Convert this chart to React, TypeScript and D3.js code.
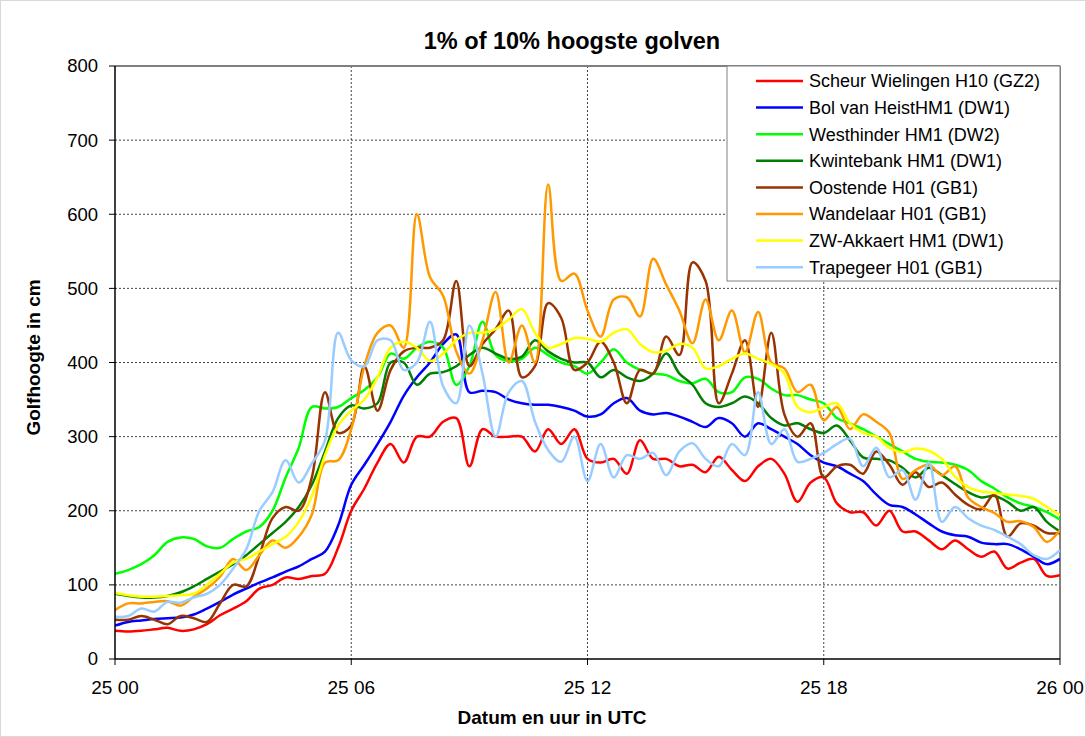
import * as d3 from 'd3';

// sample times in hours after 25 00, every 20 minutes
const hours: number[] = d3.range(0, 73).map((i) => i / 3);

const xTicks = [0, 6, 12, 18, 24];
const xTickLabels = ['25 00', '25 06', '25 12', '25 18', '26 00'];
const yTicks = [0, 100, 200, 300, 400, 500, 600, 700, 800];

const scheur = [38, 37, 38, 40, 42, 38, 40, 47, 59, 68, 78, 95, 100, 110, 108, 112, 115, 150, 200, 230, 265, 290, 265, 300, 300, 320, 325, 260, 310, 300, 300, 300, 280, 310, 290, 310, 270, 265, 270, 250, 295, 270, 270, 260, 262, 252, 273, 255, 240, 260, 270, 250, 212, 238, 245, 210, 198, 198, 180, 200, 172, 172, 160, 148, 160, 148, 138, 145, 122, 130, 135, 112, 113];
const bolVanHeist = [45, 50, 52, 54, 55, 56, 60, 68, 77, 87, 95, 103, 110, 118, 125, 135, 145, 180, 235, 262, 290, 320, 355, 380, 400, 425, 438, 360, 362, 360, 350, 345, 343, 343, 340, 335, 327, 330, 345, 352, 335, 330, 332, 327, 320, 313, 325, 318, 300, 318, 310, 300, 290, 275, 265, 260, 250, 240, 222, 208, 205, 195, 183, 172, 167, 165, 157, 155, 155, 148, 138, 128, 135];
const westhinder = [115, 120, 128, 140, 158, 164, 162, 152, 150, 162, 172, 178, 200, 245, 285, 340, 338, 340, 352, 363, 380, 412, 405, 420, 428, 420, 370, 395, 455, 410, 402, 405, 420, 410, 400, 395, 385, 400, 418, 400, 390, 385, 383, 375, 372, 378, 360, 360, 380, 378, 365, 356, 356, 350, 345, 325, 318, 310, 300, 290, 280, 270, 266, 265, 262, 255, 240, 230, 218, 210, 205, 198, 188];
const kwintebank = [88, 85, 83, 83, 85, 90, 98, 108, 118, 128, 140, 155, 170, 185, 205, 235, 280, 325, 342, 338, 345, 400, 400, 370, 385, 387, 395, 410, 420, 412, 405, 408, 430, 415, 405, 400, 400, 380, 390, 380, 375, 385, 412, 385, 370, 345, 340, 345, 354, 345, 325, 315, 318, 310, 305, 315, 295, 272, 270, 268, 258, 245, 258, 248, 236, 225, 218, 220, 212, 200, 205, 185, 172];
const oostende = [53, 53, 58, 53, 47, 58, 55, 50, 75, 100, 98, 140, 190, 205, 200, 245, 360, 305, 315, 395, 335, 390, 415, 420, 420, 430, 510, 395, 425, 445, 470, 380, 395, 480, 460, 390, 400, 428, 400, 345, 390, 385, 435, 410, 535, 510, 345, 385, 430, 340, 440, 330, 300, 318, 245, 260, 262, 250, 280, 262, 235, 252, 232, 238, 222, 208, 202, 222, 165, 183, 180, 170, 170];
const wandelaar = [66, 75, 75, 77, 78, 72, 84, 95, 111, 135, 120, 140, 160, 150, 165, 195, 265, 268, 310, 395, 440, 450, 420, 600, 515, 490, 415, 385, 430, 495, 400, 450, 400, 640, 510, 520, 470, 435, 485, 488, 462, 540, 505, 470, 426, 485, 430, 470, 414, 468, 400, 392, 360, 370, 322, 340, 310, 330, 320, 305, 243, 255, 262, 248, 260, 218, 205, 197, 185, 186, 178, 158, 174];
const zwAkkaert = [89, 86, 84, 84, 85, 86, 88, 100, 115, 130, 135, 145, 155, 165, 185, 220, 275, 315, 335, 350, 380, 420, 428, 420, 402, 412, 430, 440, 440, 445, 458, 472, 440, 420, 425, 433, 432, 428, 440, 445, 425, 414, 416, 425, 420, 392, 395, 405, 412, 405, 398, 385, 340, 333, 340, 345, 318, 305, 300, 285, 279, 284, 281, 270, 246, 232, 226, 224, 222, 220, 216, 205, 194];
const trapegeer = [57, 58, 68, 64, 77, 76, 83, 88, 100, 122, 148, 200, 225, 268, 238, 264, 295, 440, 403, 395, 430, 430, 390, 400, 455, 368, 345, 450, 385, 300, 360, 375, 320, 282, 266, 300, 240, 290, 245, 275, 270, 278, 248, 280, 291, 270, 260, 290, 275, 360, 290, 310, 266, 270, 278, 290, 297, 260, 285, 245, 255, 215, 265, 185, 205, 190, 180, 174, 165, 155, 140, 135, 147];

const seriesNames = [
  'Scheur Wielingen H10 (GZ2)',
  'Bol van HeistHM1 (DW1)',
  'Westhinder HM1 (DW2)',
  'Kwintebank HM1 (DW1)',
  'Oostende H01 (GB1)',
  'Wandelaar H01 (GB1)',
  'ZW-Akkaert HM1 (DW1)',
  'Trapegeer H01 (GB1)',
];
const seriesValues = [scheur, bolVanHeist, westhinder, kwintebank, oostende, wandelaar, zwAkkaert, trapegeer];
const seriesColors = ['#ff0000', '#0000ff', '#00ff00', '#008000', '#993300', '#ff9900', '#ffff00', '#99ccff'];

const W = 1086;
const H = 737;
const plot = { left: 115, right: 1060, top: 66, bottom: 659 };
const font = '"Liberation Sans", Arial, sans-serif';

export default function App() {
  const x = d3.scaleLinear().domain([0, 24]).range([plot.left, plot.right]);
  const y = d3.scaleLinear().domain([0, 800]).range([plot.bottom, plot.top]);

  const line = d3
    .line<number>()
    .x((_, i) => x(hours[i]))
    .y((d) => y(d))
    .curve(d3.curveCatmullRom.alpha(0.5));

  const legend = { x: 727, y: plot.top, w: plot.right - 727, h: 215, row: 26.6 };

  return (
    <svg
      width={W}
      height={H}
      style={{ position: 'absolute', left: 0, top: 0, background: '#fff' }}
      fontFamily={font}
    >
      <rect x={0.5} y={0.5} width={W - 1} height={H - 1} fill="#fff" stroke="#d9d9d9" />

      {/* grid */}
      {yTicks.slice(1, -1).map((t) => (
        <line key={'gy' + t} x1={plot.left} x2={plot.right} y1={y(t)} y2={y(t)} stroke="#444" strokeDasharray="2 2" strokeWidth={1} />
      ))}
      {xTicks.slice(1, -1).map((t) => (
        <line key={'gx' + t} x1={x(t)} x2={x(t)} y1={plot.top} y2={plot.bottom} stroke="#444" strokeDasharray="2 2" strokeWidth={1} />
      ))}

      {/* plot frame */}
      <line x1={plot.left} x2={plot.right} y1={plot.top} y2={plot.top} stroke="#808080" strokeWidth={2} />
      <line x1={plot.right} x2={plot.right} y1={plot.top} y2={plot.bottom} stroke="#808080" strokeWidth={2} />

      {/* series */}
      <g clipPath="url(#clip)">
        {seriesValues.map((vals, k) => (
          <path key={seriesNames[k]} d={line(vals) ?? ''} fill="none" stroke={seriesColors[k]} strokeWidth={2.5} strokeLinejoin="round" />
        ))}
      </g>
      <defs>
        <clipPath id="clip">
          <rect x={plot.left} y={plot.top} width={plot.right - plot.left} height={plot.bottom - plot.top} />
        </clipPath>
      </defs>

      {/* axes */}
      <line x1={plot.left} x2={plot.left} y1={plot.top} y2={plot.bottom} stroke="#000" strokeWidth={1.5} />
      <line x1={plot.left} x2={plot.right} y1={plot.bottom} y2={plot.bottom} stroke="#000" strokeWidth={1.5} />
      {yTicks.map((t) => (
        <g key={'ty' + t}>
          <line x1={plot.left - 6} x2={plot.left} y1={y(t)} y2={y(t)} stroke="#000" />
          <text x={plot.left - 17} y={y(t)} dy="0.35em" textAnchor="end" fontSize={18.5}>
            {t}
          </text>
        </g>
      ))}
      {xTicks.map((t, i) => (
        <g key={'tx' + t}>
          <line x1={x(t)} x2={x(t)} y1={plot.bottom} y2={plot.bottom + 6} stroke="#000" />
          <text x={x(t)} y={plot.bottom + 35} textAnchor="middle" fontSize={19}>
            {xTickLabels[i]}
          </text>
        </g>
      ))}

      {/* titles */}
      <text x={572} y={49} textAnchor="middle" fontSize={23.5} fontWeight="bold">
        1% of 10% hoogste golven
      </text>
      <text x={552} y={724} textAnchor="middle" fontSize={19} fontWeight="bold">
        Datum en uur in UTC
      </text>
      <text transform={`translate(40,${(plot.top + plot.bottom) / 2 - 5}) rotate(-90)`} textAnchor="middle" fontSize={19} fontWeight="bold">
        Golfhoogte in cm
      </text>

      {/* legend */}
      <rect x={legend.x} y={legend.y} width={legend.w} height={legend.h} fill="#fff" stroke="#808080" strokeWidth={1} />
      {seriesNames.map((name, k) => {
        const ry = legend.y + 15 + k * legend.row;
        return (
          <g key={'lg' + k}>
            <line x1={756} x2={803} y1={ry} y2={ry} stroke={seriesColors[k]} strokeWidth={2.5} />
            <text x={809} y={ry} dy="0.35em" fontSize={18}>
              {name}
            </text>
          </g>
        );
      })}
    </svg>
  );
}
